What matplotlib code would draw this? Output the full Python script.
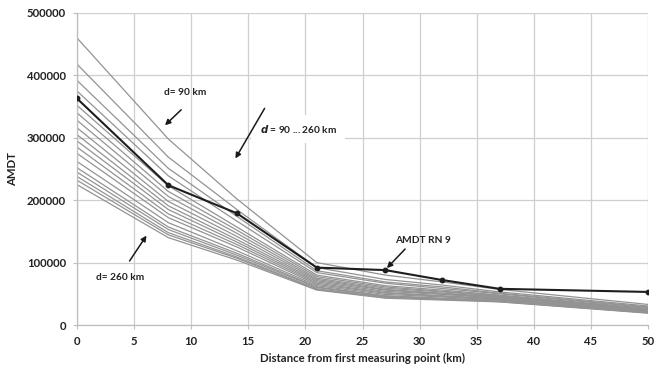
import matplotlib
matplotlib.use("Agg")
import matplotlib.pyplot as plt

# Data
distance_km = [0, 8, 14, 21, 27, 32, 37, 50]
amdt_rn9 = [363000, 224000, 179000, 92000, 88000, 72000, 58000, 53000]

# Family of curves for d = 90 ... 260 km (values in thousands)
family_k = [
    [460, 298, 202, 100, 80, 69, 57, 33],
    [418, 269, 185, 92, 73, 64, 53, 30.5],
    [392, 251, 174, 87, 69, 61, 51, 29],
    [375, 239, 166.5, 84, 67, 58.5, 50, 28],
    [352, 223, 157, 80, 63, 56, 48, 26.5],
    [340, 214, 152, 77.5, 61, 54, 47, 26],
    [328, 206, 147, 75, 59, 53, 46, 25],
    [316, 198, 142, 73, 57, 51, 45, 24.5],
    [305, 191, 137, 71, 56, 50, 44, 24],
    [295, 185, 133, 69, 54, 49, 43, 23],
    [285, 178, 129, 67, 52, 47, 42, 22.5],
    [275, 172, 125, 65, 51, 46, 41, 22],
    [262, 164, 119, 63, 49, 45, 40, 21],
    [252, 157, 115, 61, 47, 43, 39, 20.5],
    [245, 153, 112, 60, 46, 42, 38.5, 20],
    [238, 148, 109, 58, 45, 41.5, 38, 19.8],
    [232, 144.5, 107, 57, 44, 41, 37.5, 19.5],
    [225, 140, 104, 56, 43, 40, 37, 19],
]

x_ticks = [0, 5, 10, 15, 20, 25, 30, 35, 40, 45, 50]
y_ticks = [0, 100000, 200000, 300000, 400000, 500000]

plt.rcParams['font.family'] = ['Lato', 'DejaVu Sans']
plt.rcParams['font.weight'] = 'bold'

fig = plt.figure(figsize=(6.66, 3.67), dpi=100)
ax = fig.add_axes([0.1156, 0.1144, 0.973 - 0.1156, 0.9646 - 0.1144])

for row in family_k:
    ax.plot(distance_km, [v * 1000 for v in row], color='#939393', lw=0.9, zorder=2)

ax.plot(distance_km, amdt_rn9, color='#1e1e1e', lw=1.5, marker='o', ms=3.2, zorder=4)

ax.set_xlim(0, 50)
ax.set_ylim(0, 500000)
ax.set_xticks(x_ticks)
ax.set_yticks(y_ticks)
ax.set_xticklabels([str(t) for t in x_ticks], fontsize=8.2, fontweight='bold', color='#222222')
ax.set_yticklabels([str(t) for t in y_ticks], fontsize=8.2, fontweight='bold', color='#222222')
ax.grid(True, color='#cfcfcf', lw=0.9, zorder=0)
ax.set_axisbelow(True)
for s in ['top', 'right']:
    ax.spines[s].set_visible(False)
for s in ['left', 'bottom']:
    ax.spines[s].set_color('#bdbdbd')
    ax.spines[s].set_linewidth(0.9)
ax.tick_params(axis='both', length=3, color='#bdbdbd', pad=5)

ax.set_xlabel('Distance from first measuring point (km)', fontsize=8.2, fontweight='bold', color='#222222', labelpad=4)
ax.set_ylabel('AMDT', fontsize=8.2, fontweight='bold', color='#222222', labelpad=6)

arrow = dict(arrowstyle='-|>', color='#1a1a1a', lw=1.1, mutation_scale=8)
ax.annotate('', xy=(7.53, 317000), xytext=(9.3, 348000), arrowprops=arrow, zorder=6)
ax.text(9.46, 372000, 'd= 90 km', fontsize=7.3, fontweight='bold', ha='center', va='center', color='#222222')

ax.annotate('', xy=(13.75, 263000), xytext=(16.55, 351000), arrowprops=arrow, zorder=6)
ax.text(16.0, 314000, r'$\it{d}$ = 90 ... 260 km', fontsize=7.3, fontweight='bold', ha='left', va='center',
        color='#222222', bbox=dict(facecolor='white', edgecolor='none', pad=6), zorder=1.5)

ax.annotate('', xy=(6.22, 147000), xytext=(4.47, 99000), arrowprops=arrow, zorder=6)
ax.text(3.8, 76000, 'd= 260 km', fontsize=7.3, fontweight='bold', ha='center', va='center', color='#222222')

ax.annotate('', xy=(26.97, 88000), xytext=(28.9, 125000), arrowprops=arrow, zorder=6)
ax.text(30.3, 136000, 'AMDT RN 9', fontsize=7.3, fontweight='bold', ha='center', va='center', color='#222222')

fig.savefig('out.png', dpi=100)
